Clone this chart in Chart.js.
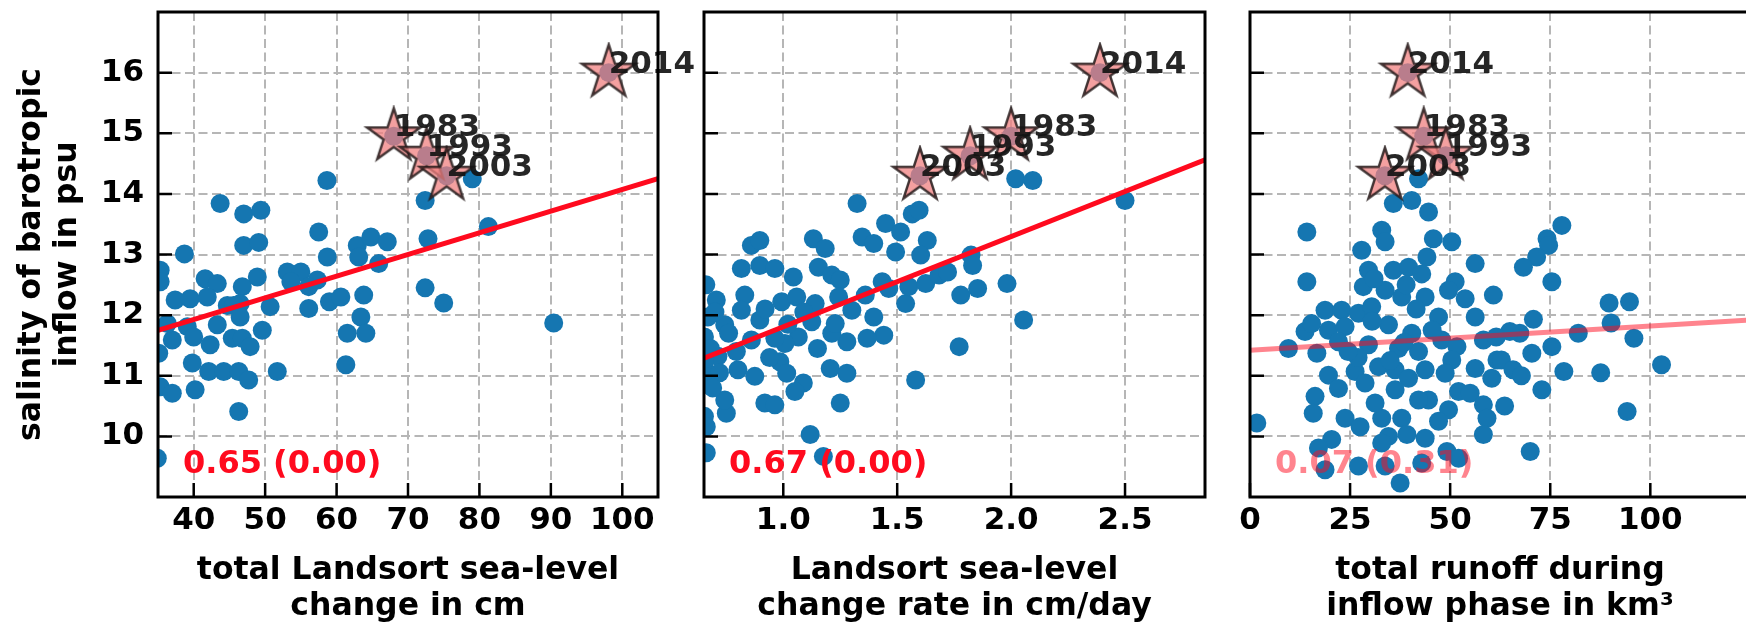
<!DOCTYPE html>
<html>
<head>
<meta charset="utf-8">
<script src="https://cdn.jsdelivr.net/npm/chart.js@4.4.0/dist/chart.umd.min.js"></script>
<style>
  html, body { margin: 0; padding: 0; background: #fff; overflow: hidden; }
  body { width: 1746px; height: 625px; position: relative; }
  canvas { position: absolute; top: 0; }
</style>
</head>
<body>
<canvas id="c1" width="720" height="625" style="left:0px"></canvas>
<canvas id="c2" width="560" height="625" style="left:672px"></canvas>
<canvas id="c3" width="600" height="625" style="left:1218px"></canvas>
<script>
// ---- data ----
// panel 1: total Landsort sea-level change (cm)
const seaLevelChange = [43.7, 47.0, 49.4, 47.0, 49.1, 38.7, 57.5, 58.7, 35.3, 35.3, 41.6, 43.3, 48.9, 46.8, 37.4, 39.5, 41.9, 44.7, 46.5, 53.1,
  55.0, 53.6, 57.3, 56.1, 50.7, 56.1, 59.0, 60.6, 62.9, 64.8, 67.1, 63.1, 65.9, 63.8, 63.4, 64.1, 61.5, 61.3, 35.1, 37.0,
  39.1, 40.0, 42.3, 43.3, 45.4, 46.8, 47.9, 49.6, 45.6, 46.5, 36.3, 39.8, 42.1, 44.2, 46.3, 47.7, 51.7, 35.3, 37.0, 40.2,
  46.3, 34.9, 58.65, 72.4, 79.0, 72.8, 81.25, 72.4, 75.0, 90.4];
const salinitySeaLevel = [13.84, 13.67, 13.73, 13.15, 13.2, 13.01, 13.37, 12.96, 12.74, 12.55, 12.6, 12.52, 12.63, 12.47, 12.25, 12.27, 12.3, 12.16, 12.19, 12.71,
  12.71, 12.55, 12.58, 12.47, 12.14, 12.11, 12.22, 12.3, 13.15, 13.29, 13.21, 12.96, 12.85, 12.33, 11.97, 11.7, 11.7, 11.18, 11.37, 11.59,
  11.81, 11.64, 11.51, 11.84, 11.62, 11.62, 11.48, 11.75, 12.16, 11.97, 11.86, 11.21, 11.07, 11.07, 11.07, 10.93, 11.07, 10.82, 10.71, 10.77,
  10.41, 9.64, 14.22, 13.89, 14.25, 13.26, 13.46, 12.45, 12.2, 11.87];

// panel 2: Landsort sea-level change rate (cm/day)
const seaLevelRate = [1.324, 0.860, 0.897, 1.132, 1.184, 1.346, 1.397, 1.449, 1.515, 1.566, 1.596, 1.493, 1.632, 1.603, 0.816, 0.897, 0.963, 1.044, 1.154, 1.213,
  1.25, 0.706, 0.831, 0.993, 1.059, 1.140, 0.897, 0.743, 0.669, 0.654, 0.816, 1.243, 1.301, 1.360, 1.434, 1.463, 1.397, 1.441, 1.368, 1.279,
  1.213, 1.228, 1.125, 1.066, 1.007, 0.963, 0.860, 0.794, 0.713, 0.654, 0.684, 0.801, 0.875, 0.985, 1.015, 1.088, 1.051, 0.919, 0.963, 0.750,
  0.743, 0.654, 0.662, 0.662, 1.206, 1.279, 1.250, 1.118, 1.176, 1.537, 1.551, 1.625, 1.684, 1.721, 1.824, 1.831, 1.779, 1.853, 1.772, 1.581,
  1.982, 2.02, 2.095, 2.5, 2.055, 0.66, 0.70, 0.68, 0.72, 0.76, 0.92, 1.09, 1.02, 0.94, 1.15, 0.69];
const salinityRate = [13.84, 13.15, 13.23, 13.26, 13.1, 13.29, 13.18, 13.51, 13.37, 13.67, 13.73, 13.04, 13.23, 12.99, 12.77, 12.82, 12.77, 12.63, 12.79, 12.66,
  12.58, 12.25, 12.33, 12.22, 12.3, 12.19, 11.92, 11.84, 11.97, 11.64, 12.08, 12.3, 12.08, 12.33, 12.55, 12.44, 11.97, 11.67, 11.62, 11.56,
  11.7, 11.86, 11.89, 11.64, 11.53, 11.62, 11.59, 11.4, 11.32, 11.21, 10.99, 11.1, 10.99, 11.23, 11.04, 10.88, 10.74, 10.55, 10.52, 10.38,
  10.6, 10.33, 10.16, 9.73, 11.12, 11.04, 10.55, 10.03, 9.67, 12.19, 12.47, 12.52, 12.66, 12.71, 12.99, 12.82, 12.33, 12.44, 11.48, 10.93,
  12.52, 14.25, 14.22, 13.89, 11.92, 12.5, 12.05, 11.45, 11.05, 11.7, 12.1, 12.05, 11.85, 11.3, 11.45, 10.8];

// panel 3: total runoff during inflow phase (km3)
const runoff = [35.8, 40.4, 44.6, 42.1, 14.2, 32.9, 33.75, 27.9, 45.8, 50.4, 44.2, 56.25, 14.2, 28.3, 29.6, 35.8, 39.6, 42.9, 33.75, 37.9,
  43.75, 51.25, 49.6, 60.8, 53.75, 56.25, 18.75, 22.9, 27.1, 30.4, 13.75, 15.4, 19.6, 23.75, 34.6, 40.4, 47.1, 47.9, 9.6, 16.7,
  22.1, 29.6, 37.1, 42.1, 51.7, 58.3, 61.7, 56.25, 60.4, 50.4, 19.6, 22.1, 26.25, 32.1, 36.25, 39.6, 43.75, 48.75, 16.25, 15.8,
  23.75, 27.5, 32.9, 37.9, 44.6, 49.6, 52.1, 55.0, 58.3, 59.2, 58.3, 1.7, 20.4, 17.1, 18.75, 27.1, 34.6, 39.2, 43.75, 33.75,
  37.5, 42.9, 49.2, 52.1, 47.1, 31.25, 36.25, 42.1, 28.75, 32.9, 77.9, 74.2, 74.6, 71.6, 68.3, 75.4, 70.8, 89.7, 94.8, 90.2,
  95.9, 82.0, 75.4, 70.4, 67.4, 64.9, 61.5, 102.8, 87.6, 78.4, 62.8, 65.7, 67.8, 72.9, 63.6, 94.2, 70.0, 30.5, 38.5, 41.5,
  35.0, 27.0, 45.5, 31.0, 39.0, 24.5];
const salinityRunoff = [13.84, 13.89, 13.7, 14.25, 13.37, 13.4, 13.21, 13.07, 13.26, 13.21, 12.96, 12.85, 12.55, 12.47, 12.74, 12.74, 12.79, 12.68, 12.41, 12.3,
  12.3, 12.55, 12.41, 12.33, 12.27, 11.97, 12.08, 12.08, 12.03, 12.14, 11.73, 11.86, 11.75, 11.81, 11.84, 11.7, 11.97, 11.59, 11.45, 11.37,
  11.56, 11.51, 11.45, 11.4, 11.48, 11.59, 11.26, 11.12, 10.96, 11.26, 11.01, 10.79, 11.07, 11.15, 11.1, 10.96, 11.1, 11.04, 10.66, 10.38,
  10.3, 10.16, 10.3, 10.3, 10.6, 10.44, 10.74, 10.71, 10.52, 10.3, 10.03, 10.22, 9.95, 9.81, 9.45, 9.51, 10.0, 10.03, 9.97, 9.51,
  9.23, 9.56, 9.75, 9.64, 10.25, 10.55, 10.77, 10.6, 10.88, 9.89, 13.48, 13.26, 13.15, 12.96, 12.79, 12.55, 11.93, 12.2, 12.22, 11.87,
  11.62, 11.7, 11.48, 11.37, 11.7, 11.73, 11.64, 11.18, 11.05, 11.07, 11.26, 11.1, 11.0, 10.77, 10.5, 10.41, 9.75, 11.9, 11.55, 12.1,
  11.25, 11.3, 11.75, 12.6, 12.5, 11.4];

// highlighted inflows (stars, also plotted as dots underneath)
const starYears = ['2014', '1983', '1993', '2003'];
const starSalinity = [16.0, 14.95, 14.63, 14.3];
const starSeaLevel = [98.1, 68.0, 72.6, 75.4];
const starRate = [2.39, 2.0, 1.82, 1.6];
const starRunoff = [39.4, 43.4, 48.9, 33.7];

// regression lines (end points)
const fitSeaLevelX = [35, 105];
const fitSeaLevelY = [11.75, 14.25];
const fitRateX = [0.652, 2.851];
const fitRateY = [11.29, 14.56];
const fitRunoffX = [0, 124.9];
const fitRunoffY = [11.42, 11.92];

// correlation (p-value)
const corrLabels = ['0.65 (0.00)', '0.67 (0.00)', '0.07 (0.31)'];

// ticks
const salinityTicks = [10, 11, 12, 13, 14, 15, 16];
const seaLevelTicks = [40, 50, 60, 70, 80, 90, 100];
const rateTicks = [1.0, 1.5, 2.0, 2.5];
const runoffTicks = [0, 25, 50, 75, 100];

// ---- drawing ----
const FONT = 'DejaVu Sans';
const BLUE = '#1576b1';

const pts = (xs, ys) => xs.map((x, i) => ({ x: x, y: ys[i] }));

function makeStar(r) {
  const size = Math.ceil(2 * r + 6);
  const c = document.createElement('canvas');
  c.width = c.height = size;
  const g = c.getContext('2d');
  const cx = size / 2, cy = size / 2;
  g.beginPath();
  for (let i = 0; i < 10; i++) {
    const rad = i % 2 === 0 ? r : r * 0.382;
    const ang = -Math.PI / 2 + i * Math.PI / 5;
    g.lineTo(cx + rad * Math.cos(ang), cy + rad * Math.sin(ang));
  }
  g.closePath();
  g.fillStyle = 'rgba(240,128,128,0.75)';
  g.fill();
  g.strokeStyle = 'rgba(35,25,25,0.85)';
  g.lineWidth = 2.5;
  g.stroke();
  return c;
}
const starImg = makeStar(28);

// frame, inward ticks, year labels and correlation text
const framePlugin = {
  id: 'frame',
  afterDraw(chart, args, opts) {
    const { ctx, chartArea: a, scales } = chart;
    ctx.save();
    // year labels next to stars
    const meta = chart.getDatasetMeta(0);
    ctx.font = 'bold 31px "' + FONT + '"';
    ctx.fillStyle = 'rgba(20,20,20,0.92)';
    ctx.textAlign = 'left';
    ctx.textBaseline = 'alphabetic';
    meta.data.forEach((el, i) => ctx.fillText(starYears[i], el.x, el.y));
    // correlation text
    ctx.font = 'bold 32px "' + FONT + '"';
    ctx.fillStyle = opts.corrColor;
    ctx.fillText(opts.corr, a.left + 0.05 * a.width, a.bottom - 0.05 * a.height);
    // inward ticks
    ctx.strokeStyle = '#000';
    ctx.lineWidth = 2.5;
    ctx.beginPath();
    scales.x.ticks.forEach(t => {
      const px = scales.x.getPixelForValue(t.value);
      ctx.moveTo(px, a.bottom);
      ctx.lineTo(px, a.bottom - 14);
    });
    scales.y.ticks.forEach(t => {
      const py = scales.y.getPixelForValue(t.value);
      ctx.moveTo(a.left, py);
      ctx.lineTo(a.left + 14, py);
    });
    ctx.stroke();
    // axes box
    ctx.lineWidth = 3;
    ctx.strokeRect(a.left, a.top, a.width, a.height);
    ctx.restore();
  }
};

function panel(id, cfg) {
  const tickFont = { family: FONT, weight: 'bold', size: 31 };
  const titleFont = { family: FONT, weight: 'bold', size: 31.5, lineHeight: 1.14 };
  const gridStyle = { color: '#b6b6b6', lineWidth: 2, drawTicks: false };
  const dash = { display: false, dash: [9, 4.5] };
  new Chart(document.getElementById(id), {
    type: 'scatter',
    data: {
      datasets: [
        {
          data: pts(cfg.starX, starSalinity),
          pointStyle: starImg,
          pointRadius: 28,
          order: 0
        },
        {
          data: pts(cfg.fitX, cfg.fitY),
          showLine: true,
          pointRadius: 0,
          borderColor: cfg.lineColor,
          borderWidth: 5,
          order: 1
        },
        {
          data: pts(cfg.x.concat(cfg.starX), cfg.y.concat(starSalinity)),
          pointRadius: 9.5,
          pointBackgroundColor: BLUE,
          pointBorderWidth: 0,
          order: 2
        }
      ]
    },
    options: {
      responsive: false,
      animation: false,
      events: [],
      layout: { autoPadding: false, padding: { top: 12, right: cfg.padRight, left: 0, bottom: 0 } },
      plugins: {
        legend: { display: false },
        tooltip: { enabled: false },
        frame: { corr: cfg.corr, corrColor: cfg.corrColor }
      },
      scales: {
        x: {
          type: 'linear',
          min: cfg.xMin,
          max: cfg.xMax,
          afterBuildTicks: s => { s.ticks = cfg.xTicks.map(v => ({ value: v })); },
          afterFit: s => { s.height = 128; s.paddingLeft = 0; s.paddingRight = 0; },
          grid: gridStyle,
          border: dash,
          ticks: {
            padding: 5,
            color: '#000',
            font: tickFont,
            maxRotation: 0,
            callback: v => cfg.xDigits ? v.toFixed(cfg.xDigits) : String(v)
          },
          title: { display: true, text: cfg.xTitle, color: '#000', font: titleFont, padding: 0 }
        },
        y: {
          type: 'linear',
          min: 9,
          max: 17,
          afterBuildTicks: s => { s.ticks = salinityTicks.map(v => ({ value: v })); },
          afterFit: s => { s.width = cfg.yWidth; s.paddingTop = 0; s.paddingBottom = 0; },
          grid: gridStyle,
          border: dash,
          ticks: { display: cfg.yLabels, padding: 14, color: '#000', font: tickFont },
          title: {
            display: cfg.yLabels,
            text: ['salinity of barotropic', 'inflow in psu'],
            color: '#000',
            font: titleFont,
            padding: { top: 14, bottom: 0 }
          }
        }
      }
    },
    plugins: [framePlugin]
  });
}

panel('c1', {
  x: seaLevelChange, y: salinitySeaLevel, starX: starSeaLevel,
  fitX: fitSeaLevelX, fitY: fitSeaLevelY, lineColor: '#ff0a1e',
  corr: corrLabels[0], corrColor: '#ff0a1e',
  xMin: 35, xMax: 105, xTicks: seaLevelTicks, xDigits: 0,
  xTitle: ['total Landsort sea-level', 'change in cm'],
  yLabels: true, yWidth: 158, padRight: 62
});
panel('c2', {
  x: seaLevelRate, y: salinityRate, starX: starRate,
  fitX: fitRateX, fitY: fitRateY, lineColor: '#ff0a1e',
  corr: corrLabels[1], corrColor: '#ff0a1e',
  xMin: 0.652, xMax: 2.851, xTicks: rateTicks, xDigits: 1,
  xTitle: ['Landsort sea-level', 'change rate in cm/day'],
  yLabels: false, yWidth: 32, padRight: 27
});
panel('c3', {
  x: runoff, y: salinityRunoff, starX: starRunoff,
  fitX: fitRunoffX, fitY: fitRunoffY, lineColor: 'rgba(255,10,30,0.5)',
  corr: corrLabels[2], corrColor: 'rgba(255,10,30,0.5)',
  xMin: 0, xMax: 124.9, xTicks: runoffTicks, xDigits: 0,
  xTitle: ['total runoff during', 'inflow phase in km³'],
  yLabels: false, yWidth: 32, padRight: 68
});
</script>
</body>
</html>
